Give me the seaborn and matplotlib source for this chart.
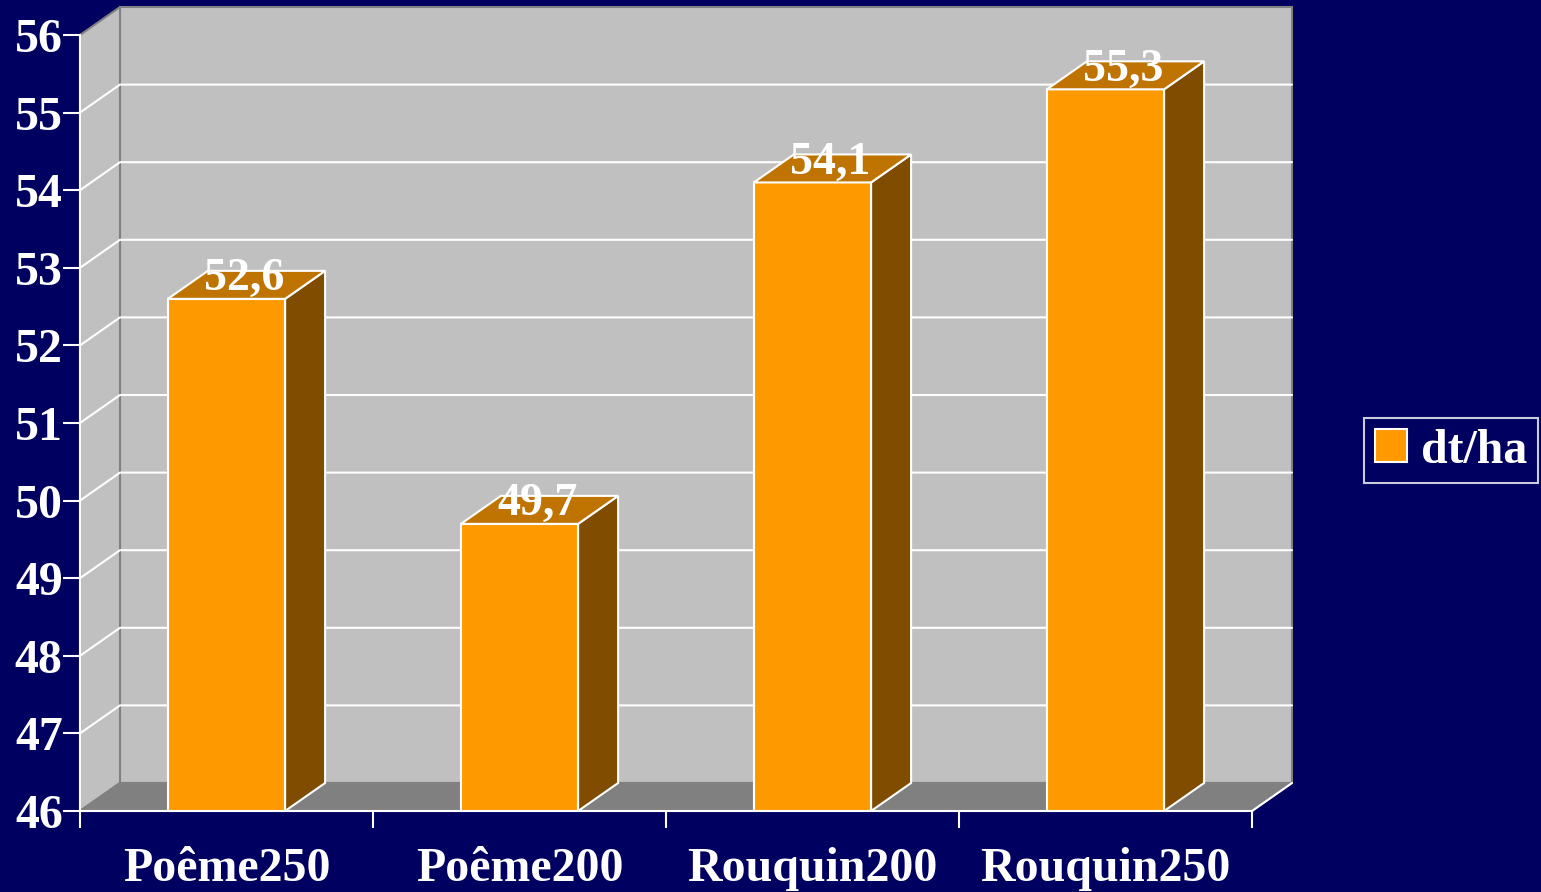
import matplotlib
matplotlib.use("Agg")
import matplotlib.pyplot as plt
import seaborn as sns
from matplotlib.patches import Polygon, Patch

categories = ["Poême250", "Poême200", "Rouquin200", "Rouquin250"]
values = [52.6, 49.7, 54.1, 55.3]
value_labels = ["52,6", "49,7", "54,1", "55,3"]
series_name = "dt/ha"
y_ticks = list(range(46, 57))

BG = "#000060"
ORANGE = "#FF9900"
SIDE = "#7F4C00"
TOP = "#BF7300"
WALL = "#C0C0C0"
FLOOR = "#808080"
EDGE = "#808080"

sns.set_theme(style="white")
plt.rcParams["font.family"] = ["Liberation Serif", "DejaVu Serif"]

fig = plt.figure(figsize=(15.41, 8.92), dpi=100, facecolor=BG)
ax = fig.add_axes([80 / 1541, 81 / 892, 1172 / 1541, 776 / 892])
ax.set_facecolor("none")

ymin, ymax = 46, 56
xmin, xmax = -0.5, 3.5
dx = 40 / 293
dy = 28 / 77.6

# walls and floor
back = Polygon([(xmin + dx, ymin + dy), (xmax + dx, ymin + dy), (xmax + dx, ymax + dy), (xmin + dx, ymax + dy)],
               closed=True, facecolor=WALL, edgecolor=EDGE, lw=1.5, clip_on=False, zorder=0)
left = Polygon([(xmin, ymin), (xmin + dx, ymin + dy), (xmin + dx, ymax + dy), (xmin, ymax)],
               closed=True, facecolor=WALL, edgecolor=EDGE, lw=1.5, clip_on=False, zorder=0)
floor = Polygon([(xmin, ymin), (xmax, ymin), (xmax + dx, ymin + dy), (xmin + dx, ymin + dy)],
                closed=True, facecolor=FLOOR, edgecolor=EDGE, lw=1.5, clip_on=False, zorder=0.5)
for p in (back, left, floor):
    ax.add_patch(p)
ax.plot([xmax, xmax + dx], [ymin, ymin + dy], color="white", lw=1.5, clip_on=False, zorder=1)

for v in y_ticks[1:-1]:
    ax.plot([xmin, xmin + dx, xmax + dx], [v, v + dy, v + dy], color="white", lw=1.5,
            clip_on=False, zorder=1)

sns.barplot(x=categories, y=values, color=ORANGE, width=0.4, saturation=1,
            edgecolor="white", linewidth=1.5, ax=ax, zorder=3)

for patch, v, lab in zip(ax.containers[0].patches, values, value_labels):
    x0 = patch.get_x()
    w = patch.get_width()
    x1 = x0 + w
    side = Polygon([(x1, ymin), (x1 + dx, ymin + dy), (x1 + dx, v + dy), (x1, v)], closed=True,
                   facecolor=SIDE, edgecolor="white", lw=1.5, clip_on=False, zorder=3)
    top = Polygon([(x0, v), (x1, v), (x1 + dx, v + dy), (x0 + dx, v + dy)], closed=True,
                  facecolor=TOP, edgecolor="white", lw=1.5, clip_on=False, zorder=3)
    ax.add_patch(side)
    ax.add_patch(top)
    ax.text(x0 + w / 2 + dx * 0.45, v + 0.255, lab, ha="center", va="center", color="white",
            fontsize=33, fontweight="bold", zorder=5)

ax.set_xlim(xmin, xmax)
ax.set_ylim(ymin, ymax)
ax.set_yticks(y_ticks)
ax.set_yticklabels([str(t) for t in y_ticks])
ax.set_xticks([-0.5, 0.5, 1.5, 2.5, 3.5])
ax.set_xticklabels([])
ax.set_xticks(range(len(categories)), minor=True)
ax.set_xticklabels(categories, minor=True)
ax.tick_params(axis="x", which="major", direction="out", length=12, width=1.5, color="white", bottom=True)
ax.tick_params(axis="x", which="minor", length=0, pad=26, labelsize=34.5, labelcolor="white")
ax.tick_params(axis="y", direction="out", length=12, width=1.5, color="white", left=True,
               labelsize=34.5, labelcolor="white", pad=0.5)
for lbl in ax.get_xticklabels(minor=True) + ax.get_yticklabels():
    lbl.set_fontweight("bold")
ax.set_xlabel("")
ax.set_ylabel("")
for s in ("top", "right"):
    ax.spines[s].set_visible(False)
for s in ("left", "bottom"):
    ax.spines[s].set_color("white")
    ax.spines[s].set_linewidth(1.5)
    ax.spines[s].set_zorder(4)

handle = Patch(facecolor=ORANGE, edgecolor="white", lw=1.5)
leg = fig.legend([handle], [series_name], loc="center", bbox_to_anchor=(1451 / 1541, 1 - 450.5 / 892),
                 frameon=True, fancybox=False, facecolor=BG, edgecolor="white",
                 prop={"size": 34.5, "weight": "bold"}, handlelength=0.68, handleheight=0.68,
                 handletextpad=0.28, borderpad=0.22, borderaxespad=0)
leg.get_frame().set_linewidth(1.5)
for t in leg.get_texts():
    t.set_color("white")

fig.savefig("out.png", dpi=100, facecolor=BG)
